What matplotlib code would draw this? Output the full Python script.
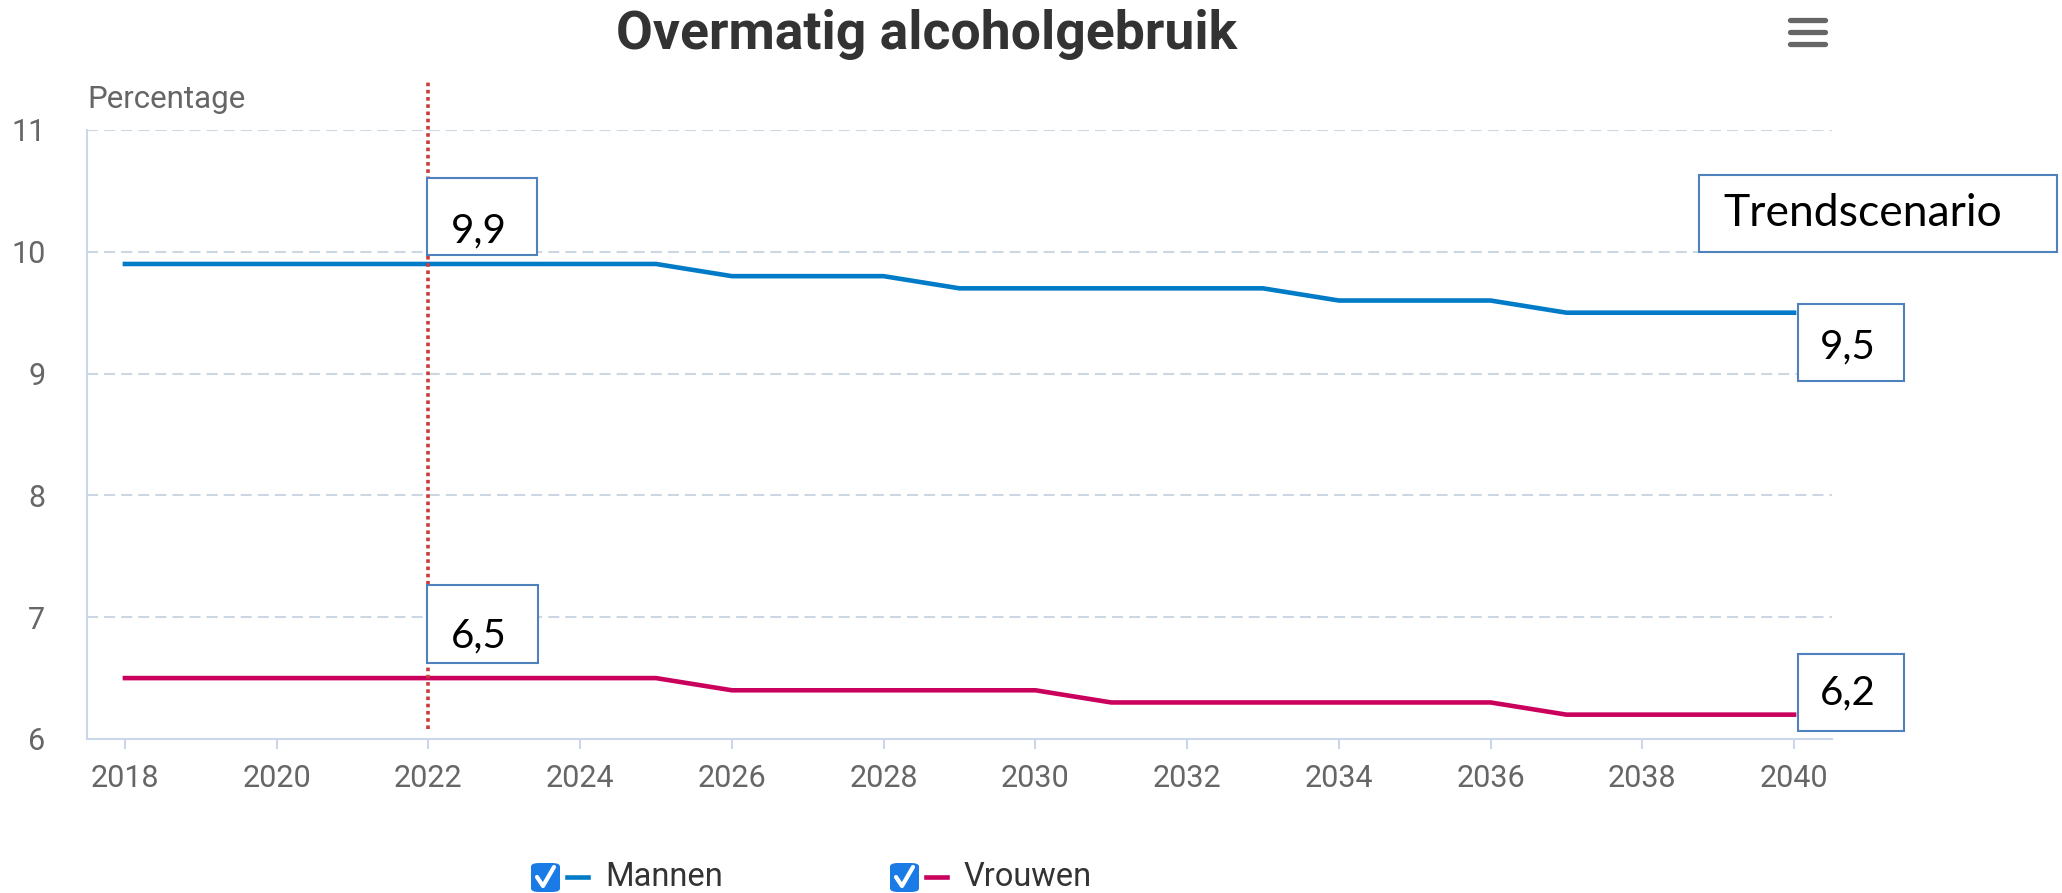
import matplotlib.pyplot as plt
import numpy as np
from matplotlib.patches import Rectangle, FancyBboxPatch
from matplotlib.lines import Line2D

# data
years = np.arange(2018, 2041)
mannen = [9.9, 9.9, 9.9, 9.9, 9.9, 9.9, 9.9, 9.9, 9.8, 9.8, 9.8, 9.7,
          9.7, 9.7, 9.7, 9.7, 9.6, 9.6, 9.6, 9.5, 9.5, 9.5, 9.5]
vrouwen = [6.5, 6.5, 6.5, 6.5, 6.5, 6.5, 6.5, 6.5, 6.4, 6.4, 6.4, 6.4,
           6.4, 6.3, 6.3, 6.3, 6.3, 6.3, 6.3, 6.2, 6.2, 6.2, 6.2]
x_ticks = np.arange(2018, 2041, 2)
y_ticks = [6, 7, 8, 9, 10, 11]
ref_year = 2022

blauw = '#007bc7'
rood = '#ca005d'
as_kleur = '#ccd6eb'
W, H = 2062, 893

plt.rcParams['font.family'] = ['Roboto', 'DejaVu Sans']


def fx(x):
    return x / W


def fy(y):
    return 1 - y / H


fig = plt.figure(figsize=(W / 100, H / 100), dpi=100)
ax = fig.add_axes([fx(87), fy(739), fx(1832) - fx(87), fy(130) - fy(739)])

ax.plot(years, mannen, color=blauw, lw=3.3, solid_joinstyle='round', zorder=3)
ax.plot(years, vrouwen, color=rood, lw=3.3, solid_joinstyle='round', zorder=3)

ax.set_xlim(2017.5, 2040.5)
ax.set_ylim(6, 11)
ax.set_xticks(x_ticks)
ax.set_yticks(y_ticks)
ax.set_yticklabels([str(v) for v in y_ticks])

for v in y_ticks[1:]:
    ax.axhline(v, color='#cdd7e4', lw=1.5, ls=(0, (5.3, 2.9)), zorder=1)

for s in ['top', 'right']:
    ax.spines[s].set_visible(False)
for s in ['left', 'bottom']:
    ax.spines[s].set_color(as_kleur)
    ax.spines[s].set_linewidth(1.5)

ax.tick_params(axis='x', colors=as_kleur, length=7, width=1.5, pad=11,
               labelcolor='#666666', labelsize=22)
ax.tick_params(axis='y', length=0, pad=30, labelcolor='#666666', labelsize=22)

# rode stippellijn bij 2022
ax.plot([ref_year, ref_year], [6.08, 11.4], color='#cc3a3a', lw=2.6,
        ls=(0, (1, 1)), clip_on=False, zorder=4)

# titel, as-titel en menu-icoon
fig.text(fx(927), fy(35), 'Overmatig alcoholgebruik', ha='center', va='center',
         fontsize=38.5, fontweight='bold', color='#333333')
fig.text(fx(87), fy(99), 'Percentage', ha='left', va='center',
         fontsize=22.5, color='#666666')
for yy in [20, 32, 44]:
    fig.add_artist(Line2D([fx(1790), fx(1825)], [fy(yy), fy(yy)], color='#666666',
                          lw=3.8, solid_capstyle='round'))


# tekstvakjes
def vak(x0, y0, x1, y1, tekst, tx, ty, grootte=29):
    fig.add_artist(Rectangle((fx(x0), fy(y1)), fx(x1) - fx(x0), fy(y0) - fy(y1),
                             transform=fig.transFigure, facecolor='white',
                             edgecolor='#4f81bd', lw=1.5, zorder=5))
    fig.text(fx(tx), fy(ty), tekst, ha='left', va='center', fontsize=grootte,
             family='Lato', color='black', zorder=6)


vak(427, 178, 537, 255, '9,9', 451, 231)
vak(427, 585, 538, 663, '6,5', 451, 636)
vak(1699, 175, 2057, 252, 'Trendscenario', 1723, 214, grootte=32)
vak(1798, 304, 1904, 381, '9,5', 1820, 347)
vak(1798, 654, 1904, 731, '6,2', 1820, 693)


# legenda
def legenda_item(x, kleur, naam):
    fig.add_artist(FancyBboxPatch((fx(x), fy(892)), fx(29), 29 / H,
                                  boxstyle='round,pad=0,rounding_size=0.004',
                                  transform=fig.transFigure, facecolor='#1a7ae6',
                                  edgecolor='none'))
    fig.add_artist(Line2D([fx(x + 6), fx(x + 12), fx(x + 23)],
                          [fy(877), fy(886), fy(867)], color='white', lw=3,
                          solid_capstyle='round', solid_joinstyle='round'))
    fig.add_artist(Line2D([fx(x + 36), fx(x + 57)], [fy(877), fy(877)],
                          color=kleur, lw=3.3))
    fig.text(fx(x + 74), fy(877), naam, ha='left', va='center', fontsize=23.5,
             color='#333333')


legenda_item(531, blauw, 'Mannen')
legenda_item(890, rood, 'Vrouwen')

fig.savefig('out.png', dpi=100)
